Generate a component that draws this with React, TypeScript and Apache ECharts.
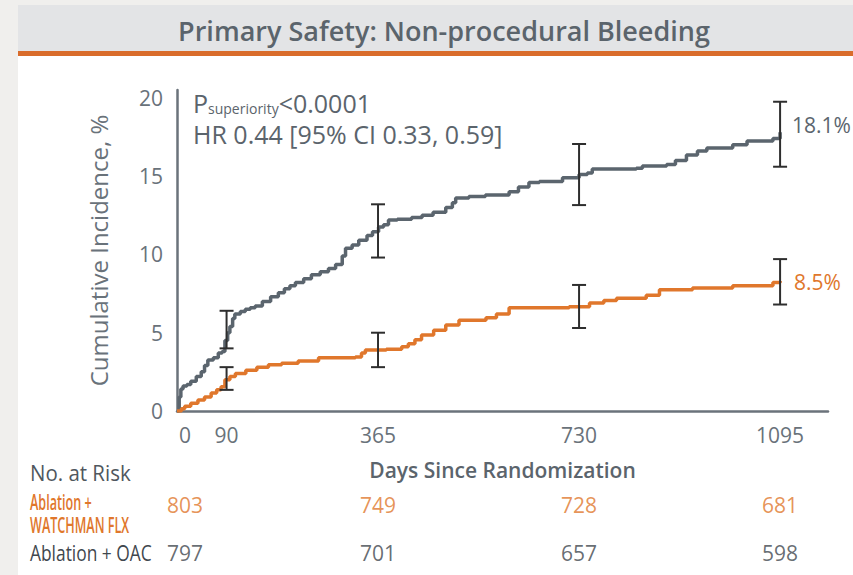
import React, { useEffect, useRef } from "react";
import * as echarts from "echarts";

const titleText = "Primary Safety: Non-procedural Bleeding";
const yTicks = [0, 5, 10, 15, 20];
const xTicks = [0, 90, 365, 730, 1095];

const oacDays = [0, 4, 7, 11, 18, 25, 35, 44, 50, 56, 66, 75, 82, 87, 92, 96, 101, 105, 115, 124, 133, 142, 155, 170, 184, 195, 205, 215, 230, 244, 260, 275, 288, 300, 306, 318, 330, 345, 355, 366, 375, 384, 400, 426, 445, 465, 488, 500, 506, 530, 560, 603, 620, 639, 658, 700, 730, 745, 754, 834, 845, 889, 905, 925, 945, 962, 1009, 1035, 1082, 1095];
const oacVals = [0, 0.9, 1.4, 1.6, 1.7, 1.9, 2.2, 2.5, 2.9, 3.25, 3.4, 3.7, 3.8, 4.5, 5.0, 5.4, 5.9, 6.2, 6.35, 6.5, 6.6, 6.7, 7.0, 7.3, 7.55, 7.8, 8.0, 8.2, 8.45, 8.7, 8.9, 9.1, 9.35, 9.9, 10.4, 10.6, 10.9, 11.2, 11.45, 11.75, 11.9, 12.2, 12.25, 12.35, 12.5, 12.7, 13.0, 13.3, 13.6, 13.7, 13.8, 14.0, 14.3, 14.6, 14.65, 14.9, 15.1, 15.2, 15.45, 15.5, 15.65, 15.75, 16.0, 16.35, 16.6, 16.8, 17.0, 17.25, 17.4, 17.8];

const flxDays = [0, 8, 14, 25, 38, 50, 62, 72, 80, 87, 96, 106, 125, 145, 166, 190, 220, 257, 324, 335, 342, 380, 408, 420, 432, 444, 466, 488, 512, 561, 580, 603, 712, 749, 775, 798, 852, 876, 936, 1009, 1082, 1095];
const flxVals = [0, 0.15, 0.3, 0.5, 0.7, 0.9, 1.15, 1.35, 1.55, 2.0, 2.2, 2.4, 2.6, 2.8, 2.95, 3.05, 3.2, 3.4, 3.45, 3.7, 3.9, 3.95, 4.1, 4.3, 4.55, 4.85, 5.15, 5.5, 5.8, 5.95, 6.2, 6.6, 6.65, 6.9, 7.05, 7.2, 7.4, 7.75, 7.85, 8.0, 8.2, 8.3];

const ciDays = [90, 365, 730, 1095];
const oacLow = [4.0, 9.8, 13.15, 15.6];
const oacHigh = [6.4, 13.2, 17.05, 19.75];
const flxLow = [1.35, 2.8, 5.3, 6.8];
const flxHigh = [2.8, 5.0, 8.05, 9.7];

const riskDays = [0, 365, 730, 1095];
const riskFlx = [803, 749, 728, 681];
const riskOac = [797, 701, 657, 598];

const oacEnd = "18.1%";
const flxEnd = "8.5%";

const GREY = "#5b656e";
const ORANGE = "#e0772c";
const TEXT = "#69727a";
const FONT = "'Open Sans', 'Noto Sans', sans-serif";

const X_MAX = 1182;

export default function App() {
  const ref = useRef<HTMLDivElement>(null);
  useEffect(() => {
    const chart = echarts.init(ref.current!, null, { renderer: "svg" });

    const errSeries = (low: number[], high: number[]) => ({
      type: "custom",
      xAxisIndex: 0,
      yAxisIndex: 0,
      z: 5,
      data: ciDays.map((d, i) => [d, low[i], high[i]]),
      renderItem: (params: any, api: any) => {
        const lo = api.coord([api.value(0), api.value(1)]);
        const hi = api.coord([api.value(0), api.value(2)]);
        const w = 7;
        const st = { stroke: "#2e2e2e", lineWidth: 2 };
        return {
          type: "group",
          children: [
            { type: "line", shape: { x1: hi[0], y1: hi[1], x2: lo[0], y2: lo[1] }, style: st },
            { type: "line", shape: { x1: hi[0] - w, y1: hi[1], x2: hi[0] + w, y2: hi[1] }, style: st },
            { type: "line", shape: { x1: lo[0] - w, y1: lo[1], x2: lo[0] + w, y2: lo[1] }, style: st },
          ],
        };
      },
    });

    const riskSeries = (vals: number[], idx: number, color: string) => ({
      type: "scatter",
      xAxisIndex: idx,
      yAxisIndex: idx,
      symbolSize: 0,
      silent: true,
      data: riskDays.map((d, i) => ({
        value: [d, 0.5],
        label: { offset: [i === 0 ? 8 : 0, 0] },
      })),
      label: {
        show: true,
        position: "inside",
        formatter: (p: any) => String(vals[p.dataIndex]),
        color,
        fontFamily: FONT,
        fontSize: 21,
      },
    });

    const hiddenX = (gi: number) => ({
      type: "value",
      gridIndex: gi,
      min: 0,
      max: X_MAX,
      show: false,
    });
    const hiddenY = (gi: number) => ({
      type: "value",
      gridIndex: gi,
      min: 0,
      max: 1,
      show: false,
    });

    chart.setOption({
      animation: false,
      backgroundColor: "#ffffff",
      grid: [
        { left: 177, right: 25, top: 90, bottom: 164 },
        { left: 177, right: 25, top: 493, height: 24 },
        { left: 177, right: 25, top: 541, height: 24 },
      ],
      xAxis: [
        {
          type: "value",
          gridIndex: 0,
          min: 0,
          max: X_MAX,
          name: "Days Since Randomization",
          nameLocation: "middle",
          nameGap: 48,
          nameTextStyle: { color: "#5b646c", fontSize: 21, fontWeight: 600, fontFamily: FONT },
          axisLine: { lineStyle: { color: "#6b737b", width: 2.5 } },
          axisTick: { show: false },
          splitLine: { show: false },
          axisLabel: {
            customValues: xTicks,
            color: TEXT,
            fontSize: 21,
            fontFamily: FONT,
            margin: 13,
            formatter: (v: number) => (v === 0 ? "{z|0}" : String(v)),
            rich: { z: { padding: [0, 0, 0, 16], fontSize: 21, color: TEXT, fontFamily: FONT } },
          },
        },
        hiddenX(1),
        hiddenX(2),
      ],
      yAxis: [
        {
          type: "value",
          gridIndex: 0,
          min: 0,
          max: 20.5,
          name: "Cumulative Incidence, %",
          nameLocation: "middle",
          nameGap: 67,
          nameRotate: 90,
          nameTextStyle: { color: TEXT, fontSize: 24, fontFamily: FONT },
          axisLine: { show: true, lineStyle: { color: "#6b737b", width: 2.5 } },
          axisTick: { show: false },
          splitLine: { show: false },
          axisLabel: {
            customValues: yTicks,
            color: TEXT,
            fontSize: 21,
            fontFamily: FONT,
            margin: 14,
          },
        },
        hiddenY(1),
        hiddenY(2),
      ],
      series: [
        {
          type: "line",
          name: "Ablation + OAC",
          step: "end",
          showSymbol: false,
          symbol: "none",
          data: oacDays.map((d, i) => [d, oacVals[i]]),
          lineStyle: { color: GREY, width: 3.5 },
          z: 3,
          endLabel: {
            show: true,
            formatter: () => oacEnd,
            color: GREY,
            fontSize: 21,
            fontFamily: FONT,
            distance: 12,
            offset: [0, -7],
          },
        },
        {
          type: "line",
          name: "Ablation + WATCHMAN FLX",
          step: "end",
          showSymbol: false,
          symbol: "none",
          data: flxDays.map((d, i) => [d, flxVals[i]]),
          lineStyle: { color: ORANGE, width: 3.5 },
          z: 3,
          endLabel: {
            show: true,
            formatter: () => flxEnd,
            color: ORANGE,
            fontSize: 21,
            fontFamily: FONT,
            distance: 14,
            offset: [0, 1],
          },
        },
        errSeries(oacLow, oacHigh),
        errSeries(flxLow, flxHigh),
        riskSeries(riskFlx, 1, ORANGE),
        riskSeries(riskOac, 2, "#3f474e"),
      ],
      graphic: [
        { type: "rect", z: -10, shape: { x: 0, y: 0, width: 18, height: 575 }, style: { fill: "#f0efed" } },
        { type: "rect", z: -10, shape: { x: 0, y: 0, width: 853, height: 5 }, style: { fill: "#f0efed" } },
        { type: "rect", z: -9, shape: { x: 18, y: 5, width: 835, height: 46 }, style: { fill: "#e3e4e6" } },
        { type: "rect", z: -9, shape: { x: 18, y: 51, width: 835, height: 5 }, style: { fill: "#d96c2b" } },
        {
          type: "text",
          x: 444,
          y: 30,
          style: {
            text: titleText,
            fill: "#5b646c",
            font: `600 27px ${FONT}`,
            textAlign: "center",
            textVerticalAlign: "middle",
          },
        },
        {
          type: "text",
          x: 193,
          y: 103,
          style: {
            text: "{p|P}{s|superiority}{p|<0.0001}",
            textVerticalAlign: "middle",
            rich: {
              p: { fontSize: 25, fill: "#5b646c", fontFamily: FONT, verticalAlign: "bottom" },
              s: { fontSize: 14, fill: "#5b646c", fontFamily: FONT, verticalAlign: "bottom" },
            },
          },
        },
        {
          type: "text",
          x: 193,
          y: 134,
          style: {
            text: "HR 0.44 [95% CI 0.33, 0.59]",
            fill: "#5b646c",
            font: `25px ${FONT}`,
            textVerticalAlign: "middle",
          },
        },
        {
          type: "text",
          x: 30,
          y: 472,
          scaleX: 0.93,
          style: { text: "No. at Risk", fill: "#4f575e", font: `22px ${FONT}`, textVerticalAlign: "middle" },
        },
        {
          type: "text",
          x: 30,
          y: 513,
          scaleX: 0.6,
          style: {
            text: "Ablation +\nWATCHMAN FLX",
            fill: ORANGE,
            font: `600 21px ${FONT}`,
            lineHeight: 23,
            textVerticalAlign: "middle",
          },
        },
        {
          type: "text",
          x: 30,
          y: 553,
          scaleX: 0.79,
          style: { text: "Ablation + OAC", fill: "#3f474e", font: `22px ${FONT}`, textVerticalAlign: "middle" },
        },
      ],
    });
    return () => chart.dispose();
  }, []);
  return (
    <div
      ref={ref}
      style={{ position: "absolute", left: 0, top: 0, width: 853, height: 575 }}
    />
  );
}
